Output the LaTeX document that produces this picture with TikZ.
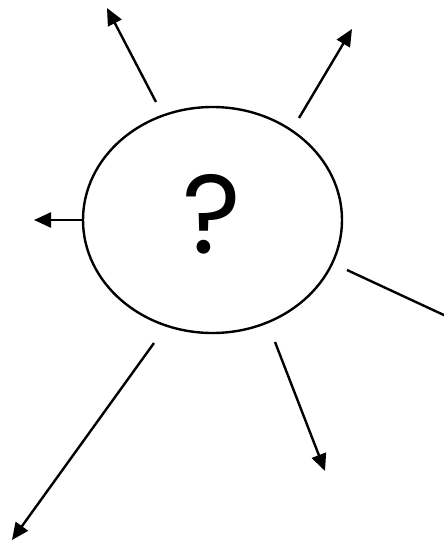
\documentclass[tikz,border=0pt]{standalone}
\usepackage{fontspec}
\setmainfont{Poppins}
\usetikzlibrary{arrows.meta,shapes.geometric}
\tikzset{every picture/.style={line width=2.4pt},
  ray/.style={-{Triangle[length=17pt,width=15pt]}}}

\begin{document}
\begin{tikzpicture}[x=1pt,y=-1pt]
    \useasboundingbox (0,0) rectangle (444,542);
    % the blob
    \node[draw, ellipse, minimum width=259pt, minimum height=226pt, inner sep=0pt] (blob) at (212.5,220) {};
    \node[font=\fontsize{112}{112}\selectfont, inner sep=0pt] (what) at (212,214) {?};
    % arrow ends
    \coordinate (s1) at (156,102);  \coordinate (t1) at (107,8);
    \coordinate (s2) at (299,118);  \coordinate (t2) at (352,29);
    \coordinate (s3) at (blob.west); \coordinate (t3) at (34,220);
    \coordinate (s4) at (347,270);  \coordinate (t4) at (446,316);
    \coordinate (s5) at (275,342);  \coordinate (t5) at (325,471);
    \coordinate (s6) at (154,343);  \coordinate (t6) at (12,540);
    % rays
    \draw[ray] (s1) -- (t1);
    \draw[ray] (s2) -- (t2);
    \draw[ray] (s3) -- (t3);
    \draw (s4) -- (t4);
    \draw[ray] (s5) -- (t5);
    \draw[ray] (s6) -- (t6);
\end{tikzpicture}
\end{document}
